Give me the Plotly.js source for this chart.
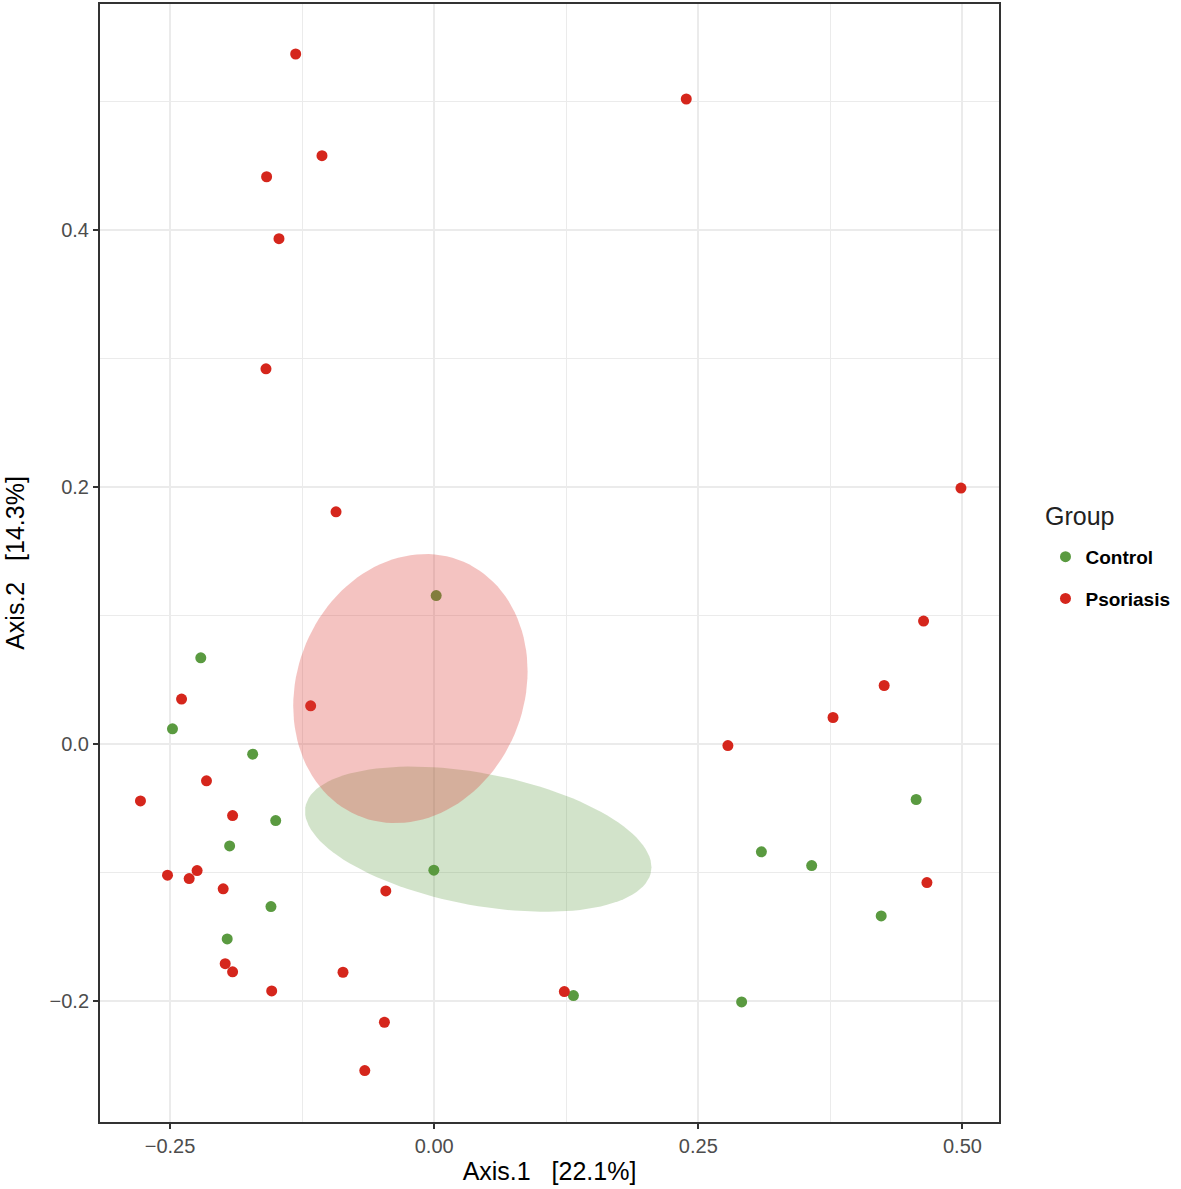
<!DOCTYPE html>
<html>
<head>
<meta charset="utf-8">
<script src="https://cdn.plot.ly/plotly-3.0.1.min.js"></script>
<style>
  html, body { margin: 0; padding: 0; background: #fff; }
  #chart { width: 1181px; height: 1189px; }
</style>
</head>
<body>
<div id="chart"></div>
<script>
// --- PCoA coordinates ---
const controlX = [-0.2209, -0.2477, -0.1718, -0.1500, -0.1936, -0.0003, -0.1545, -0.1959,
                  0.1318, 0.2910, 0.4562, 0.3097, 0.3573, 0.4231, 0.0019];
const controlY = [0.0669, 0.0117, -0.0080, -0.0597, -0.0794, -0.0983, -0.1266, -0.1518,
                  -0.1958, -0.2008, -0.0433, -0.0840, -0.0947, -0.1339, 0.1154];

const psoriasisX = [-0.1311, -0.1062, -0.1586, -0.1469, -0.1592, -0.0929, -0.2391, -0.1169,
                    -0.2155, -0.2780, -0.1908, -0.2524, -0.2244, -0.2319, -0.1997, -0.0458,
                    -0.1978, -0.1908, -0.0863, -0.1538, -0.0471, -0.0657, 0.1232, 0.2386,
                    0.4986, 0.4632, 0.4259, 0.3775, 0.2780, 0.4664];
const psoriasisY = [0.5367, 0.4576, 0.4412, 0.3930, 0.2918, 0.1805, 0.0348, 0.0296,
                    -0.0288, -0.0444, -0.0558, -0.1022, -0.0986, -0.1048, -0.1128, -0.1144,
                    -0.1710, -0.1774, -0.1777, -0.1922, -0.2166, -0.2542, -0.1927, 0.5017,
                    0.1990, 0.0955, 0.0454, 0.0205, -0.0013, -0.1079];

// ellipse summaries: [centre x, centre y, var x, var y, cov xy]
const controlEllipse = [0.0417, -0.0742, 0.02689, 0.003192, -0.00357];
const psoriasisEllipse = [-0.0225, 0.0430, 0.0123, 0.01096, 0.0015];

const groupNames = ['Control', 'Psoriasis'];
const xTicks = [-0.25, 0, 0.25, 0.5];
const yTicks = [-0.2, 0, 0.2, 0.4];

const GREEN = '#5a9a40';
const RED = '#d5261c';
const FONT = 'Liberation Sans, Arial, Helvetica, sans-serif';

// outline of an ellipse from its centre and covariance (Cholesky factor)
function ellipsePath(e) {
    const [cx, cy, sxx, syy, sxy] = e;
    const l11 = Math.sqrt(sxx);
    const l21 = sxy / l11;
    const l22 = Math.sqrt(syy - l21 * l21);
    const xs = [], ys = [];
    for (let i = 0; i <= 120; i++) {
        const t = 2 * Math.PI * i / 120;
        xs.push(cx + l11 * Math.cos(t));
        ys.push(cy + l21 * Math.cos(t) + l22 * Math.sin(t));
    }
    return { xs, ys };
}

const ctrlPath = ellipsePath(controlEllipse);
const psoPath = ellipsePath(psoriasisEllipse);

const traces = [
    {
        x: controlX, y: controlY, type: 'scatter', mode: 'markers',
        name: groupNames[0], legendgroup: 'c',
        marker: { color: GREEN, size: 11 }
    },
    {
        x: psoriasisX, y: psoriasisY, type: 'scatter', mode: 'markers',
        name: groupNames[1], legendgroup: 'p',
        marker: { color: RED, size: 11 }
    },
    {
        x: ctrlPath.xs, y: ctrlPath.ys, type: 'scatter', mode: 'lines',
        fill: 'toself', fillcolor: 'rgba(90,150,60,0.27)',
        line: { width: 0 }, showlegend: false, hoverinfo: 'skip'
    },
    {
        x: psoPath.xs, y: psoPath.ys, type: 'scatter', mode: 'lines',
        fill: 'toself', fillcolor: 'rgba(220,60,55,0.31)',
        line: { width: 0 }, showlegend: false, hoverinfo: 'skip'
    }
];

const axisCommon = {
    showline: true, mirror: true, linecolor: '#333333', linewidth: 2,
    ticks: 'outside', ticklen: 5, tickwidth: 1.5, tickcolor: '#333333',
    showgrid: true, gridcolor: '#ebebeb', gridwidth: 1.5,
    zeroline: false,
    tickfont: { family: FONT, size: 20, color: '#4d4d4d' },
    ticklabelstandoff: 0
};

const layout = {
    width: 1181, height: 1189,
    margin: { l: 100, r: 182, t: 4, b: 67 },
    paper_bgcolor: '#ffffff', plot_bgcolor: '#ffffff',
    font: { family: FONT, color: '#000' },
    xaxis: Object.assign({}, axisCommon, {
        range: [-0.3163, 0.5346],
        tickvals: xTicks, tickformat: '.2f',
        minor: { showgrid: true, dtick: 0.125, tick0: 0, gridcolor: '#ebebeb', gridwidth: 1 },
        title: { text: 'Axis.1   [22.1%]', font: { family: FONT, size: 25, color: '#000' }, standoff: 6 }
    }),
    yaxis: Object.assign({}, axisCommon, {
        range: [-0.2942, 0.5756],
        tickvals: yTicks, tickformat: '.1f',
        minor: { showgrid: true, dtick: 0.1, tick0: 0, gridcolor: '#ebebeb', gridwidth: 1 },
        title: { text: 'Axis.2   [14.3%]', font: { family: FONT, size: 25, color: '#000' }, standoff: 18 }
    }),
    showlegend: true,
    legend: {
        x: 1.0517, xanchor: 'left', y: 0.5225, yanchor: 'top',
        traceorder: 'grouped', tracegroupgap: 14,
        font: { family: FONT, size: 19, color: '#000', weight: 'bold' },
        itemwidth: 30, bgcolor: 'rgba(0,0,0,0)'
    },
    annotations: [{
        text: 'Group', xref: 'paper', yref: 'paper',
        x: 1.0484, xanchor: 'left', y: 0.542, yanchor: 'middle',
        showarrow: false, font: { family: FONT, size: 25, color: '#222' }
    }]
};

Plotly.newPlot('chart', traces, layout, { displayModeBar: false, responsive: false });
</script>
</body>
</html>
